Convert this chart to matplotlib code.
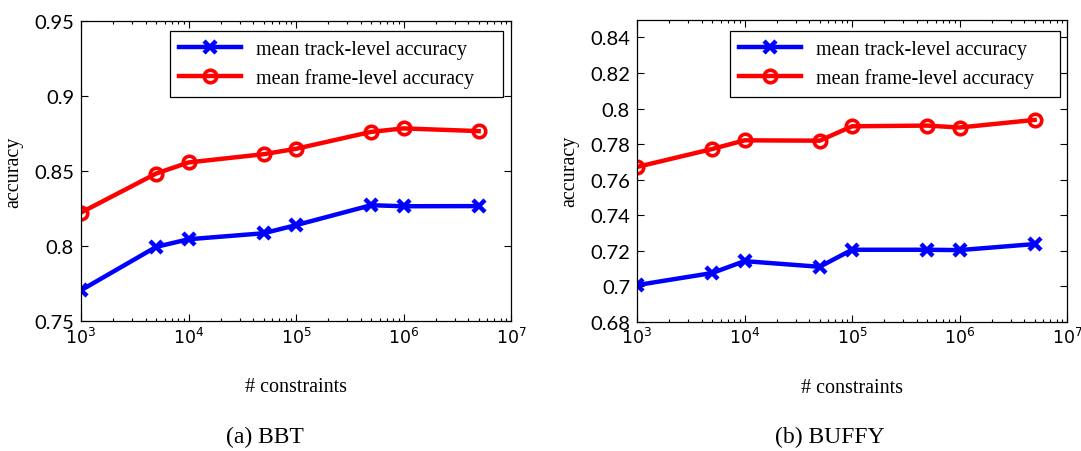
import matplotlib
matplotlib.use("Agg")
import matplotlib.pyplot as plt
from matplotlib.ticker import LogLocator, NullFormatter, FixedLocator

# number of constraints (shared by both datasets)
constraints = [1e3, 5e3, 1e4, 5e4, 1e5, 5e5, 1e6, 5e6]

# BBT results
bbt_track = [0.7705, 0.7994, 0.8045, 0.8085, 0.8139, 0.8272, 0.8265, 0.8266]
bbt_frame = [0.8223, 0.8483, 0.8557, 0.8612, 0.8648, 0.8761, 0.8784, 0.8766]

# BUFFY results
buffy_track = [0.7006, 0.7074, 0.7141, 0.7109, 0.7205, 0.7205, 0.7203, 0.7237]
buffy_frame = [0.7671, 0.7772, 0.7821, 0.7819, 0.7900, 0.7904, 0.7893, 0.7936]

bbt_yticks = [0.75, 0.8, 0.85, 0.9, 0.95]
bbt_yticklabels = ["0.75", "0.8", "0.85", "0.9", "0.95"]
buffy_yticks = [0.68, 0.70, 0.72, 0.74, 0.76, 0.78, 0.80, 0.82, 0.84]
buffy_yticklabels = ["0.68", "0.7", "0.72", "0.74", "0.76", "0.78", "0.8", "0.82", "0.84"]

series_labels = ["mean track-level accuracy", "mean frame-level accuracy"]
captions = ["(a) BBT", "(b) BUFFY"]

plt.rcParams["mathtext.fontset"] = "custom"
plt.rcParams["mathtext.rm"] = "Lato"
plt.rcParams["mathtext.it"] = "Lato"

SERIF = "Liberation Serif"
TICKFONT = "Lato"

fig = plt.figure(figsize=(10.81, 4.52), dpi=100)
ax1 = fig.add_axes([81 / 1081, 1 - 322 / 452, 430 / 1081, 300 / 452])
ax2 = fig.add_axes([637 / 1081, 1 - 322.7 / 452, 430 / 1081, 302 / 452])


def draw(ax, track, frame, ylim, yticks, yticklabels, legend_box):
    ax.plot(constraints, track, color="#0000ff", lw=3.2, marker="x",
            ms=8, mew=3.2, label=series_labels[0], solid_joinstyle="round")
    ax.plot(constraints, frame, color="#ff0000", lw=3.2, marker="o",
            ms=9, mew=2.6, mfc="none", label=series_labels[1],
            solid_joinstyle="round")
    ax.set_xscale("log")
    ax.set_xlim(1e3, 1e7)
    ax.set_ylim(*ylim)
    ax.yaxis.set_major_locator(FixedLocator(yticks))
    ax.set_yticklabels(yticklabels, fontfamily=TICKFONT, fontsize=14.5)
    ax.xaxis.set_major_locator(LogLocator(base=10, numticks=10))
    ax.xaxis.set_minor_locator(LogLocator(base=10, subs=range(2, 10), numticks=20))
    ax.xaxis.set_minor_formatter(NullFormatter())
    ax.tick_params(axis="both", which="both", direction="in",
                   top=True, right=True, width=0.8)
    ax.tick_params(axis="both", which="major", length=5)
    ax.tick_params(axis="x", which="minor", length=2.5)
    ax.tick_params(axis="x", which="major", pad=4, labelsize=12.5)
    ax.tick_params(axis="y", which="major", pad=5)
    for s in ax.spines.values():
        s.set_linewidth(0.9)
    ax.set_ylabel("accuracy", fontfamily=SERIF, fontsize=14.5)
    ax.set_xlabel("# constraints", fontfamily=SERIF, fontsize=14.5)
    ax.xaxis.set_label_coords(0.5, -0.185)
    ax.yaxis.set_label_coords(-0.134, 0.5)
    leg = ax.legend(loc="upper left", bbox_to_anchor=legend_box,
                    mode="expand", prop={"family": SERIF, "size": 14.5},
                    handlelength=3.1, handletextpad=0.7, borderpad=0.45,
                    labelspacing=0.45, frameon=True, fancybox=False,
                    framealpha=1, borderaxespad=0)
    leg.get_frame().set_edgecolor("black")
    leg.get_frame().set_linewidth(0.9)


# legend boxes as (x0, y0, width, height) in axes fractions
draw(ax1, bbt_track, bbt_frame, (0.75, 0.95), bbt_yticks, bbt_yticklabels,
     ((170 - 81) / 430, (322 - 94) / 300, (503 - 170) / 430, 62 / 300))
draw(ax2, buffy_track, buffy_frame, (0.68, 0.85), buffy_yticks, buffy_yticklabels,
     ((730 - 637) / 430, (322.7 - 93) / 302, (1060 - 730) / 430, 61 / 302))

fig.text(265 / 1081, 1 - 437 / 452, captions[0], ha="center", va="center",
         fontfamily=SERIF, fontsize=17)
fig.text(830 / 1081, 1 - 437 / 452, captions[1], ha="center", va="center",
         fontfamily=SERIF, fontsize=17)

fig.savefig("out.png", dpi=100)
